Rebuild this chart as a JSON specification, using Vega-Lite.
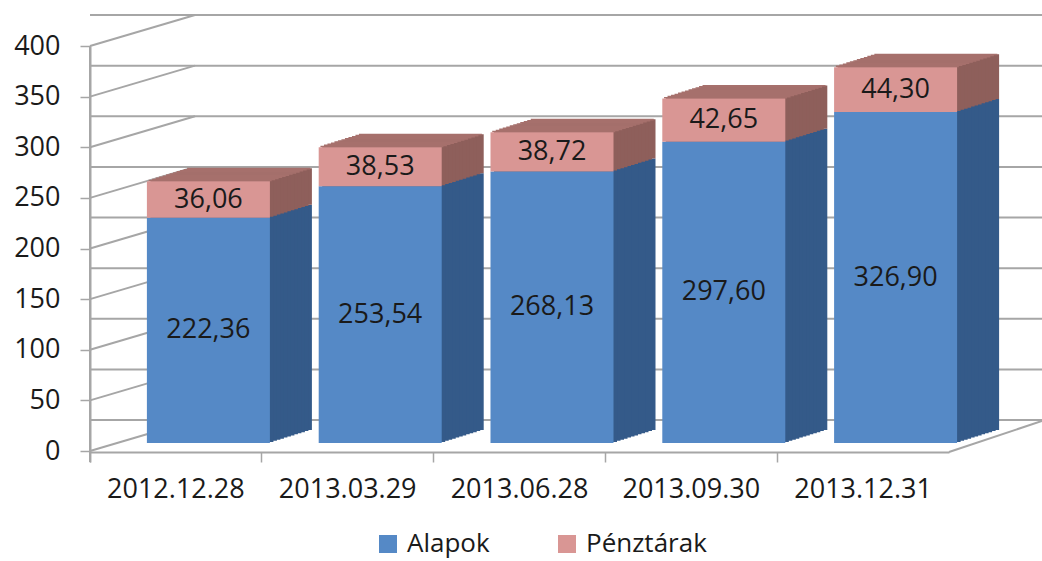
{
  "$schema": "https://vega.github.io/schema/vega-lite/v6.json",
  "width": 859,
  "height": 405,
  "autosize": {"type": "none"},
  "padding": {"left": 90, "top": 46, "right": 93, "bottom": 110},
  "background": "#ffffff",
  "config": {
    "view": {"stroke": null},
    "font": "Open Sans",
    "locale": {"number": {"decimal": ",", "thousands": " ", "grouping": [3], "currency": ["", ""]}},
    "legend": {"labelFont": "Open Sans"},
    "axis": {"labelFont": "Open Sans", "labelFontSize": 27, "labelColor": "#1a1a1a", "grid": false,
             "domain": true, "domainColor": "#A6A6A6", "tickColor": "#A6A6A6", "tickSize": 10},
    "axisX": {"labelAngle": 0, "bandPosition": 0, "tickExtra": true, "tickWidth": 1.5, "domainWidth": 2,
              "offset": 1, "labelPadding": 14},
    "axisY": {"tickWidth": 1.5, "domainWidth": 2, "labelPadding": 20}
  },
  "datasets": {
    "bars": [
      {"date": "2012.12.28", "series": "Alapok", "value": 222.36},
      {"date": "2012.12.28", "series": "Pénztárak", "value": 36.06},
      {"date": "2013.03.29", "series": "Alapok", "value": 253.54},
      {"date": "2013.03.29", "series": "Pénztárak", "value": 38.53},
      {"date": "2013.06.28", "series": "Alapok", "value": 268.13},
      {"date": "2013.06.28", "series": "Pénztárak", "value": 38.72},
      {"date": "2013.09.30", "series": "Alapok", "value": 297.60},
      {"date": "2013.09.30", "series": "Pénztárak", "value": 42.65},
      {"date": "2013.12.31", "series": "Alapok", "value": 326.90},
      {"date": "2013.12.31", "series": "Pénztárak", "value": 44.30}
    ],
    "grid": [
      {"v": 0}, {"v": 50}, {"v": 100}, {"v": 150}, {"v": 200},
      {"v": 250}, {"v": 300}, {"v": 350}, {"v": 400}
    ],
    "floor": [{"v": 0}]
  },
  "layer": [
    {
      "data": {"name": "grid"},
      "mark": {"type": "rule", "xOffset": 105, "x2Offset": 93, "yOffset": -31, "color": "#A6A6A6", "strokeWidth": 2},
      "encoding": {
        "y": {
          "field": "v", "type": "quantitative",
          "scale": {"domain": [0, 400], "nice": false, "zero": true},
          "axis": {"values": [0, 50, 100, 150, 200, 250, 300, 350, 400], "title": null}
        }
      }
    },
    {
      "data": {"name": "grid"},
      "mark": {"type": "rule", "x2Offset": 105, "y2Offset": -31, "color": "#A6A6A6", "strokeWidth": 2},
      "encoding": {
        "x": {"datum": "2012.12.28", "type": "nominal", "bandPosition": 0, "axis": {"title": null}},
        "x2": {"datum": "2012.12.28", "bandPosition": 0},
        "y": {"field": "v", "type": "quantitative", "axis": {"values": [0, 50, 100, 150, 200, 250, 300, 350, 400], "title": null}},
        "y2": {"field": "v"}
      }
    },
    {
      "data": {"name": "floor"},
      "mark": {"type": "rule", "yOffset": 11, "color": "#A6A6A6", "strokeWidth": 2},
      "encoding": {
        "x": {"datum": "2012.12.28", "type": "nominal", "bandPosition": 0, "axis": {"title": null}},
        "y": {"field": "v", "type": "quantitative", "axis": {"values": [0, 50, 100, 150, 200, 250, 300, 350, 400], "title": null}},
        "y2": {"datum": 400}
      }
    },
    {
      "data": {"name": "floor"},
      "mark": {"type": "rule", "x2Offset": 93, "y2Offset": -30, "yOffset": 1, "color": "#A6A6A6", "strokeWidth": 2},
      "encoding": {
        "x": {"datum": "2013.12.31", "type": "nominal", "bandPosition": 1, "axis": {"title": null}},
        "x2": {"datum": "2013.12.31", "bandPosition": 1},
        "y": {"field": "v", "type": "quantitative", "axis": {"values": [0, 50, 100, 150, 200, 250, 300, 350, 400], "title": null}},
        "y2": {"field": "v"}
      }
    },
    {
      "data": {"name": "bars"},
      "transform": [
        {"stack": "value", "groupby": ["date"], "sort": [{"field": "series", "order": "ascending"}], "as": ["y0", "y1"]}
      ],
      "encoding": {
        "x": {
          "field": "date", "type": "nominal",
          "scale": {"paddingInner": 0, "paddingOuter": 0},
          "axis": {"title": null}
        },
        "y": {"field": "y1", "type": "quantitative", "axis": {"values": [0, 50, 100, 150, 200, 250, 300, 350, 400], "title": null}},
        "y2": {"field": "y0"}
      },
      "layer": [
        {"mark": {"type": "bar", "width": {"band": 0.716}, "xOffset": 74.5, "yOffset": -21, "y2Offset": -21},
         "encoding": {"color": {"condition": {"test": "datum.series === 'Alapok'", "value": "#345A89"}, "value": "#8E5F5B"}}},
        {"mark": {"type": "bar", "width": {"band": 0.716}, "xOffset": 71, "yOffset": -19.92, "y2Offset": -19.92},
         "encoding": {"color": {"condition": {"test": "datum.series === 'Alapok'", "value": "#345A89"}, "value": "#8E5F5B"}}},
        {"mark": {"type": "bar", "width": {"band": 0.716}, "xOffset": 67.5, "yOffset": -18.83, "y2Offset": -18.83},
         "encoding": {"color": {"condition": {"test": "datum.series === 'Alapok'", "value": "#345A89"}, "value": "#8E5F5B"}}},
        {"mark": {"type": "bar", "width": {"band": 0.716}, "xOffset": 64, "yOffset": -17.75, "y2Offset": -17.75},
         "encoding": {"color": {"condition": {"test": "datum.series === 'Alapok'", "value": "#345A89"}, "value": "#8E5F5B"}}},
        {"mark": {"type": "bar", "width": {"band": 0.716}, "xOffset": 60.5, "yOffset": -16.67, "y2Offset": -16.67},
         "encoding": {"color": {"condition": {"test": "datum.series === 'Alapok'", "value": "#345A89"}, "value": "#8E5F5B"}}},
        {"mark": {"type": "bar", "width": {"band": 0.716}, "xOffset": 57, "yOffset": -15.58, "y2Offset": -15.58},
         "encoding": {"color": {"condition": {"test": "datum.series === 'Alapok'", "value": "#345A89"}, "value": "#8E5F5B"}}},
        {"mark": {"type": "bar", "width": {"band": 0.716}, "xOffset": 53.5, "yOffset": -14.5, "y2Offset": -14.5},
         "encoding": {"color": {"condition": {"test": "datum.series === 'Alapok'", "value": "#345A89"}, "value": "#8E5F5B"}}},
        {"mark": {"type": "bar", "width": {"band": 0.716}, "xOffset": 50, "yOffset": -13.42, "y2Offset": -13.42},
         "encoding": {"color": {"condition": {"test": "datum.series === 'Alapok'", "value": "#345A89"}, "value": "#8E5F5B"}}},
        {"mark": {"type": "bar", "width": {"band": 0.716}, "xOffset": 46.5, "yOffset": -12.33, "y2Offset": -12.33},
         "encoding": {"color": {"condition": {"test": "datum.series === 'Alapok'", "value": "#345A89"}, "value": "#8E5F5B"}}},
        {"mark": {"type": "bar", "width": {"band": 0.716}, "xOffset": 43, "yOffset": -11.25, "y2Offset": -11.25},
         "encoding": {"color": {"condition": {"test": "datum.series === 'Alapok'", "value": "#345A89"}, "value": "#8E5F5B"}}},
        {"mark": {"type": "bar", "width": {"band": 0.716}, "xOffset": 39.5, "yOffset": -10.17, "y2Offset": -10.17},
         "encoding": {"color": {"condition": {"test": "datum.series === 'Alapok'", "value": "#345A89"}, "value": "#8E5F5B"}}},
        {"mark": {"type": "bar", "width": {"band": 0.716}, "xOffset": 36, "yOffset": -9.08, "y2Offset": -9.08},
         "encoding": {"color": {"condition": {"test": "datum.series === 'Alapok'", "value": "#345A89"}, "value": "#8E5F5B"}}},
        {"transform": [{"filter": "datum.series === 'Pénztárak'"}],
         "mark": {"type": "bar", "width": {"band": 0.716}, "xOffset": 72.75, "yOffset": -21.5, "y2Offset": -19.92, "color": "#A6706C"},
         "encoding": {"y": {"field": "y1", "type": "quantitative"}, "y2": {"field": "y1"}}},
        {"transform": [{"filter": "datum.series === 'Pénztárak'"}],
         "mark": {"type": "bar", "width": {"band": 0.716}, "xOffset": 69.25, "yOffset": -20.42, "y2Offset": -18.83, "color": "#A6706C"},
         "encoding": {"y": {"field": "y1", "type": "quantitative"}, "y2": {"field": "y1"}}},
        {"transform": [{"filter": "datum.series === 'Pénztárak'"}],
         "mark": {"type": "bar", "width": {"band": 0.716}, "xOffset": 65.75, "yOffset": -19.33, "y2Offset": -17.75, "color": "#A6706C"},
         "encoding": {"y": {"field": "y1", "type": "quantitative"}, "y2": {"field": "y1"}}},
        {"transform": [{"filter": "datum.series === 'Pénztárak'"}],
         "mark": {"type": "bar", "width": {"band": 0.716}, "xOffset": 62.25, "yOffset": -18.25, "y2Offset": -16.67, "color": "#A6706C"},
         "encoding": {"y": {"field": "y1", "type": "quantitative"}, "y2": {"field": "y1"}}},
        {"transform": [{"filter": "datum.series === 'Pénztárak'"}],
         "mark": {"type": "bar", "width": {"band": 0.716}, "xOffset": 58.75, "yOffset": -17.17, "y2Offset": -15.58, "color": "#A6706C"},
         "encoding": {"y": {"field": "y1", "type": "quantitative"}, "y2": {"field": "y1"}}},
        {"transform": [{"filter": "datum.series === 'Pénztárak'"}],
         "mark": {"type": "bar", "width": {"band": 0.716}, "xOffset": 55.25, "yOffset": -16.08, "y2Offset": -14.5, "color": "#A6706C"},
         "encoding": {"y": {"field": "y1", "type": "quantitative"}, "y2": {"field": "y1"}}},
        {"transform": [{"filter": "datum.series === 'Pénztárak'"}],
         "mark": {"type": "bar", "width": {"band": 0.716}, "xOffset": 51.75, "yOffset": -15, "y2Offset": -13.42, "color": "#A6706C"},
         "encoding": {"y": {"field": "y1", "type": "quantitative"}, "y2": {"field": "y1"}}},
        {"transform": [{"filter": "datum.series === 'Pénztárak'"}],
         "mark": {"type": "bar", "width": {"band": 0.716}, "xOffset": 48.25, "yOffset": -13.92, "y2Offset": -12.33, "color": "#A6706C"},
         "encoding": {"y": {"field": "y1", "type": "quantitative"}, "y2": {"field": "y1"}}},
        {"transform": [{"filter": "datum.series === 'Pénztárak'"}],
         "mark": {"type": "bar", "width": {"band": 0.716}, "xOffset": 44.75, "yOffset": -12.83, "y2Offset": -11.25, "color": "#A6706C"},
         "encoding": {"y": {"field": "y1", "type": "quantitative"}, "y2": {"field": "y1"}}},
        {"transform": [{"filter": "datum.series === 'Pénztárak'"}],
         "mark": {"type": "bar", "width": {"band": 0.716}, "xOffset": 41.25, "yOffset": -11.75, "y2Offset": -10.17, "color": "#A6706C"},
         "encoding": {"y": {"field": "y1", "type": "quantitative"}, "y2": {"field": "y1"}}},
        {"transform": [{"filter": "datum.series === 'Pénztárak'"}],
         "mark": {"type": "bar", "width": {"band": 0.716}, "xOffset": 37.75, "yOffset": -10.67, "y2Offset": -9.08, "color": "#A6706C"},
         "encoding": {"y": {"field": "y1", "type": "quantitative"}, "y2": {"field": "y1"}}},
        {"transform": [{"filter": "datum.series === 'Pénztárak'"}],
         "mark": {"type": "bar", "width": {"band": 0.716}, "xOffset": 34.25, "yOffset": -9.58, "y2Offset": -8, "color": "#A6706C"},
         "encoding": {"y": {"field": "y1", "type": "quantitative"}, "y2": {"field": "y1"}}},
        {"mark": {"type": "bar", "width": {"band": 0.716}, "xOffset": 32.5, "yOffset": -8, "y2Offset": -8},
         "encoding": {
           "color": {
             "field": "series", "type": "nominal",
             "scale": {"domain": ["Alapok", "Pénztárak"], "range": ["#5589C6", "#D99694"]},
             "legend": {
               "title": null, "orient": "none", "direction": "horizontal",
               "legendX": 285, "legendY": 485,
               "symbolType": "square", "symbolSize": 324, "symbolStrokeWidth": 0,
               "labelFontSize": 26, "labelColor": "#1a1a1a", "labelOffset": 6, "columnPadding": 64,
               "labelFont": "Open Sans", "labelLimit": 300
             }
           }
         }}
      ]
    },
    {
      "data": {"name": "bars"},
      "mark": {"type": "text", "dx": 32.5, "dy": -8, "fontSize": 27, "baseline": "middle", "align": "center", "color": "#1a1a1a", "font": "Open Sans"},
      "encoding": {
        "x": {"field": "date", "type": "nominal", "axis": {"title": null}},
        "y": {"field": "value", "type": "quantitative", "stack": "zero", "bandPosition": 0.5, "axis": {"values": [0, 50, 100, 150, 200, 250, 300, 350, 400], "title": null}},
        "detail": {"field": "series"},
        "order": {"field": "series", "sort": "ascending"},
        "text": {"field": "value", "type": "quantitative", "format": ".2f"}
      }
    }
  ]
}
